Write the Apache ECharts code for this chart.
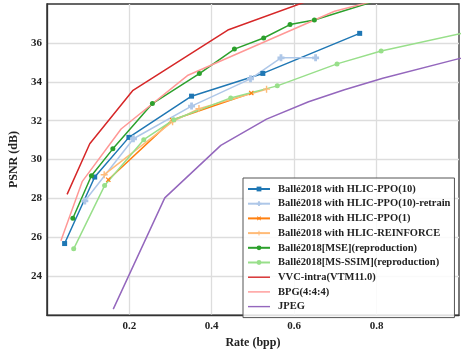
<!DOCTYPE html>
<html><head><meta charset="utf-8">
<script src="https://cdn.jsdelivr.net/npm/echarts@6/dist/echarts.min.js"></script>
<style>html,body{margin:0;padding:0;background:#fff}#c{width:463px;height:354px}</style>
</head><body><div id="c"></div>
<script>
const seriesNames = [
  'Ballé2018 with HLIC-PPO(10)',
  'Ballé2018 with HLIC-PPO(10)-retrain',
  'Ballé2018 with HLIC-PPO(1)',
  'Ballé2018 with HLIC-REINFORCE',
  'Ballé2018[MSE](reproduction)',
  'Ballé2018[MS-SSIM](reproduction)',
  'VVC-intra(VTM11.0)',
  'BPG(4:4:4)',
  'JPEG'
];
const ppo10 = [[0.043,25.68],[0.116,29.10],[0.199,31.14],[0.351,33.26],[0.524,34.43],[0.759,36.49]];
const ppo10Retrain = [[0.092,27.87],[0.21,31.07],[0.351,32.75],[0.494,34.15],[0.568,35.23],[0.652,35.23]];
const ppo1 = [[0.149,28.96],[0.304,32.03],[0.496,33.42]];
const reinforce = [[0.139,29.22],[0.305,31.95],[0.369,32.62],[0.533,33.62]];
const balleMSE = [[0.063,26.98],[0.108,29.17],[0.160,30.55],[0.256,32.88],[0.370,34.42],[0.455,35.68],[0.526,36.25],[0.590,36.94],[0.649,37.18],[0.85,38.5]];
const balleMSSSIM = [[0.065,25.41],[0.140,28.66],[0.235,31.02],[0.308,32.05],[0.446,33.17],[0.559,33.79],[0.704,34.92],[0.811,35.58],[1.02,36.55]];
const vvc = [[0.049,28.21],[0.104,30.81],[0.208,33.54],[0.439,36.66],[0.70,38.67]];
const bpg = [[0.034,25.83],[0.086,28.88],[0.18,31.57],[0.341,34.32],[0.698,37.63],[0.95,39.0]];
const jpeg = [[0.161,22.31],[0.286,28.03],[0.422,30.73],[0.533,32.08],[0.635,32.97],[0.722,33.59],[0.815,34.18],[1.0,35.19],[1.1,35.7]];
const colors = ['#1f77b4','#aec7e8','#ff7f0e','#ffbb78','#2ca02c','#98df8a','#d62728','#ff9896','#9467bd'];

const PLUS = 'path://M4,0H6V4H10V6H6V10H4V6H0V4H4Z';
const FPLUS = 'path://M3,0H7V3H10V7H7V10H3V7H0V3H3Z';
const LINEICON = 'path://M0,0M0,2.3H22V3.7H0ZM22,6';
const dataList = [ppo10, ppo10Retrain, ppo1, reinforce, balleMSE, balleMSSSIM, vvc, bpg, jpeg];
const symbols = ['rect', FPLUS, PLUS, PLUS, 'circle', 'circle', 'none', 'none', 'none'];
const symSizes = [5, 7, 6, 7, 5, 5, 0, 0, 0];
const symRot = [0, 0, 45, 0, 0, 0, 0, 0, 0];
const font = '"Liberation Serif","Times New Roman",serif';

const series = dataList.map((d, i) => ({
  name: seriesNames[i], type: 'line', data: d, clip: true,
  symbol: symbols[i], symbolSize: symSizes[i], symbolRotate: symRot[i],
  showSymbol: symbols[i] !== 'none',
  lineStyle: {color: colors[i], width: 1.5},
  itemStyle: {color: colors[i]},
  emphasis: {disabled: true},
  animation: false
}));

const legendData = seriesNames.map((n, i) => symbols[i] === 'none' ? {name: n, icon: LINEICON} : {name: n});

const chart = echarts.init(document.getElementById('c'));
chart.setOption({
  animation: false,
  color: colors,
  grid: {left: 33, top: 4, right: 4, bottom: 33, show: true, borderColor: '#333', borderWidth: 1.3, backgroundColor: '#fff', z: 0},
  xAxis: {type: 'value', min: 0, max: 1, interval: 0.2,
    name: 'Rate (bpp)', nameLocation: 'middle', nameGap: 15,
    nameTextStyle: {fontFamily: font, fontWeight: 'bold', fontSize: 12, color: '#222'},
    axisLine: {show: true, lineStyle: {color: '#333', width: 1.3}}, axisTick: {show: false},
    axisLabel: {showMinLabel: false, showMaxLabel: false, margin: 6, fontFamily: font, fontWeight: 'bold', fontSize: 11, color: '#222'},
    splitLine: {show: true, showMinLine: false, showMaxLine: false, lineStyle: {color: '#dddddd', width: 1.3}}
  },
  yAxis: {type: 'value', min: 22, max: 38, interval: 2,
    name: 'PSNR (dB)', nameLocation: 'middle', nameGap: 18, nameRotate: 90,
    nameTextStyle: {fontFamily: font, fontWeight: 'bold', fontSize: 12, color: '#222'},
    axisLine: {show: true, lineStyle: {color: '#333', width: 1.3}}, axisTick: {show: false},
    axisLabel: {showMinLabel: false, showMaxLabel: false, margin: 5, fontFamily: font, fontWeight: 'bold', fontSize: 11, color: '#222'},
    splitLine: {show: true, showMinLine: false, showMaxLine: false, lineStyle: {color: '#dddddd', width: 1.3}}
  },
  legend: {
    orient: 'vertical', left: 243, top: 178,
    padding: [5, 4, 5, 4], itemGap: 2.7, itemWidth: 22, itemHeight: 6,
    borderColor: '#555', borderWidth: 1, backgroundColor: 'rgba(255,255,255,0.85)',
    textStyle: {fontFamily: font, fontWeight: 'bold', fontSize: 10.5, color: '#222', lineHeight: 12, padding: [0,0,0,3]},
    data: legendData
  },
  series: series
});
</script></body></html>
